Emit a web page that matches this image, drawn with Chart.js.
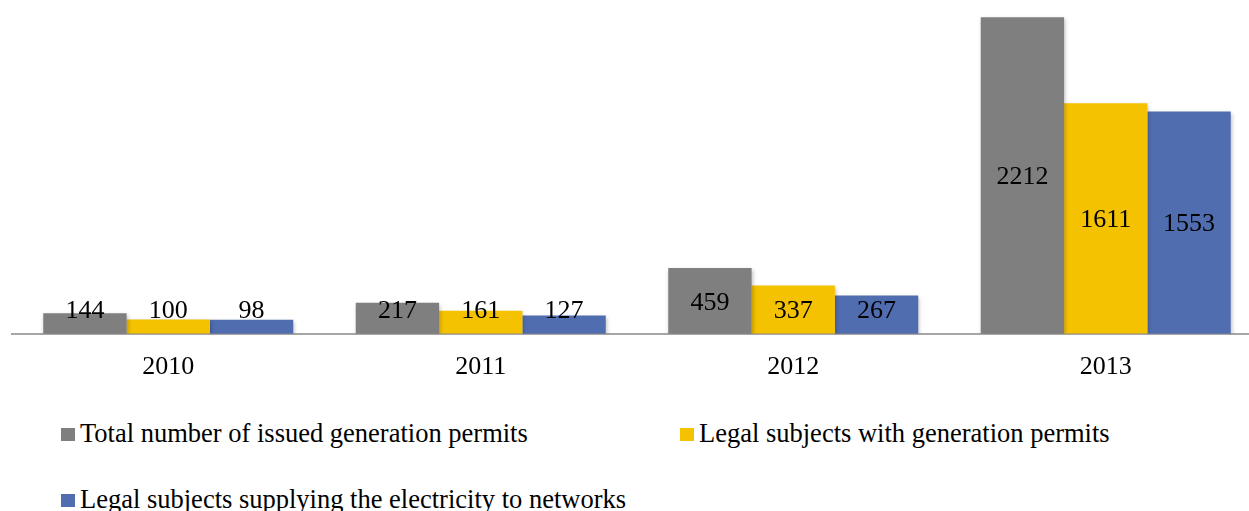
<!DOCTYPE html>
<html>
<head>
<meta charset="utf-8">
<script src="https://cdn.jsdelivr.net/npm/chart.js@4"></script>
<style>
  html, body { margin: 0; padding: 0; background: #fff; overflow: hidden; }
  #wrap { position: relative; width: 1262px; height: 401px; }
  #legend { position: absolute; left: 0; top: 410px; width: 1249px;
            font-family: "Liberation Serif", "Times New Roman", serif; font-size: 26.5px; color: #000; }
  .item { position: absolute; white-space: nowrap; line-height: 30px; }
  .box { display: inline-block; width: 14px; height: 13px; margin-right: 5px; vertical-align: 1px; }
</style>
</head>
<body>
<div id="wrap"><canvas id="permits"></canvas></div>
<div id="legend"></div>
<script>
// Categories and series
var years = ['2010', '2011', '2012', '2013'];
var totalPermits = [144, 217, 459, 2212];
var subjectsWithPermits = [100, 161, 337, 1611];
var subjectsSupplying = [98, 127, 267, 1553];

var seriesNames = [
    'Total number of issued generation permits',
    'Legal subjects with generation permits',
    'Legal subjects supplying the electricity to networks'
];
var seriesColors = ['#7f7f7f', '#f4c200', '#506db0'];

var serif = '"Liberation Serif", "Times New Roman", serif';

// Value labels sit in the middle of each bar, lifted above the axis for short bars
var barLabels = {
    id: 'barLabels',
    afterDatasetsDraw: function (chart) {
        var ctx = chart.ctx;
        ctx.save();
        ctx.font = '26px ' + serif;
        ctx.fillStyle = '#000';
        ctx.textAlign = 'center';
        ctx.textBaseline = 'middle';
        chart.data.datasets.forEach(function (ds, i) {
            chart.getDatasetMeta(i).data.forEach(function (bar, j) {
                var y = Math.min((bar.y + bar.base) / 2 + 2, bar.base - 23);
                ctx.fillText(String(ds.data[j]), bar.x, y);
            });
        });
        ctx.restore();
    }
};

// Soft shadow under the bars
var barShadow = {
    id: 'barShadow',
    beforeDatasetsDraw: function (chart) {
        var ctx = chart.ctx;
        ctx.save();
        ctx.shadowColor = 'rgba(0,0,0,0.25)';
        ctx.shadowBlur = 4;
        ctx.shadowOffsetX = 1;
        ctx.shadowOffsetY = 2;
    },
    afterDatasetsDraw: function (chart) {
        chart.ctx.restore();
    }
};

var chart = new Chart(document.getElementById('permits'), {
    type: 'bar',
    data: {
        labels: years,
        datasets: [
            { label: seriesNames[0], data: totalPermits, backgroundColor: seriesColors[0] },
            { label: seriesNames[1], data: subjectsWithPermits, backgroundColor: seriesColors[1] },
            { label: seriesNames[2], data: subjectsSupplying, backgroundColor: seriesColors[2] }
        ]
    },
    options: {
        responsive: true,
        maintainAspectRatio: false,
        animation: false,
        layout: { padding: { left: 12, right: 0, top: 0, bottom: 0 } },
        datasets: { bar: { categoryPercentage: 0.8, barPercentage: 1.0 } },
        plugins: {
            legend: { display: false },
            tooltip: { enabled: false }
        },
        scales: {
            x: {
                grid: { display: false, drawTicks: false },
                border: { display: true, color: '#a6a6a6', width: 2 },
                ticks: { color: '#000', font: { family: serif, size: 26 }, padding: 18 }
            },
            y: {
                display: false,
                min: 0,
                max: 2332
            }
        }
    },
    plugins: [barShadow, barLabels]
});

// Legend built from the chart's datasets
var legend = document.getElementById('legend');
var spots = [[61, 8], [680, 8], [61, 74]];
chart.data.datasets.forEach(function (ds, i) {
    var item = document.createElement('div');
    item.className = 'item';
    item.style.left = spots[i][0] + 'px';
    item.style.top = spots[i][1] + 'px';
    var box = document.createElement('span');
    box.className = 'box';
    box.style.background = ds.backgroundColor;
    item.appendChild(box);
    item.appendChild(document.createTextNode(ds.label));
    legend.appendChild(item);
});
</script>
</body>
</html>
